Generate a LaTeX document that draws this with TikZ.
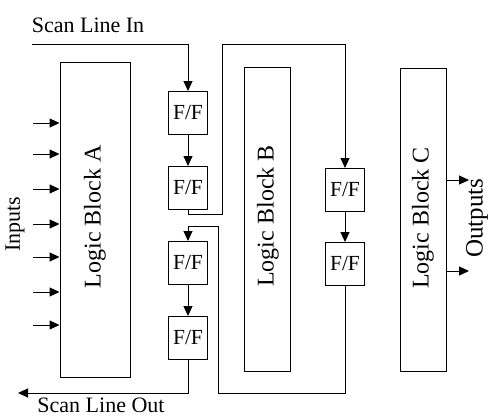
\documentclass[tikz,border=0pt]{standalone}
\usepackage{fontspec}
\setmainfont{Liberation Serif}
\usepackage{tikz}
\usetikzlibrary{arrows.meta,positioning}
\tikzset{
  box/.style={draw, line width=1pt, inner sep=0pt, fill=white, align=center},
  blk/.style={box, minimum width=46pt},
  blklbl/.style={rotate=90, inner sep=0pt, font=\fontsize{24}{26}\selectfont},
  ffn/.style={box, minimum width=39pt, minimum height=43pt, font=\fontsize{21.5}{24}\selectfont},
  pre/.style={-{Triangle[length=10pt,width=9pt]}, line width=1pt},
  lbl/.style={font=\fontsize{22}{24}\selectfont, inner sep=0pt},
}

\begin{document}
\begin{tikzpicture}[x=1pt,y=-1pt]
\useasboundingbox (0,0) rectangle (489,418);
% logic blocks
\node[blk, minimum width=70pt, minimum height=315pt] (blkA) at (95,219.5) {};
\node[blk, minimum height=304pt] (blkB) at (267,219) {};
\node[blk, minimum height=303pt] (blkC) at (423,219.5) {};
\node[blklbl] (lblA) at (95,217) {Logic Block A};
\node[blklbl] (lblB) at (268,216) {Logic Block B};
\node[blklbl] (lblC) at (423,218) {Logic Block C};
% scan flip-flops
\node[ffn] (ff1) at (188,113) {F/F};
\node[ffn] (ff2) at (188,188) {F/F};
\node[ffn] (ff3) at (345,190) {F/F};
\node[ffn] (ff4) at (345,264) {F/F};
\node[ffn] (ff5) at (188,263) {F/F};
\node[ffn] (ff6) at (188,338) {F/F};
% scan chain
\coordinate (sin) at (32,44);
\coordinate (sout) at (18,393);
\coordinate (upB) at (222,44);
\coordinate (dnB) at (218,226);
\draw[pre] (sin) -| (ff1.north);
\draw[pre] (ff1) -- (ff2);
\draw[pre] (ff2.south) -- ++(0,4) -| (upB) -| (ff3.north);
\draw[pre] (ff3) -- (ff4);
\draw[pre] (ff4.south) |- (218,393) -- (dnB) -| (ff5.north);
\draw[pre] (ff5) -- (ff6);
\draw[pre] (ff6.south) |- (sout);
% primary inputs / outputs
\foreach \y [count=\i] in {123,154,189,224,257,292,325} {
  \coordinate (in\i) at (33,\y);
  \draw[pre] (in\i) -- (in\i -| blkA.west);
}
\foreach \y [count=\i] in {180,271} {
  \coordinate (out\i) at (469,\y);
  \draw[pre] (out\i -| blkC.east) -- (out\i);
}
\node[lbl] (scanin) at (88,25) {Scan Line In};
\node[lbl] (scanout) at (101,405) {Scan Line Out};
\node[lbl, rotate=90] (inputs) at (15,224) {Inputs};
\node[lbl, rotate=90, font=\fontsize{25}{26}\selectfont] (outputs) at (477,218) {Outputs};
\end{tikzpicture}
\end{document}
